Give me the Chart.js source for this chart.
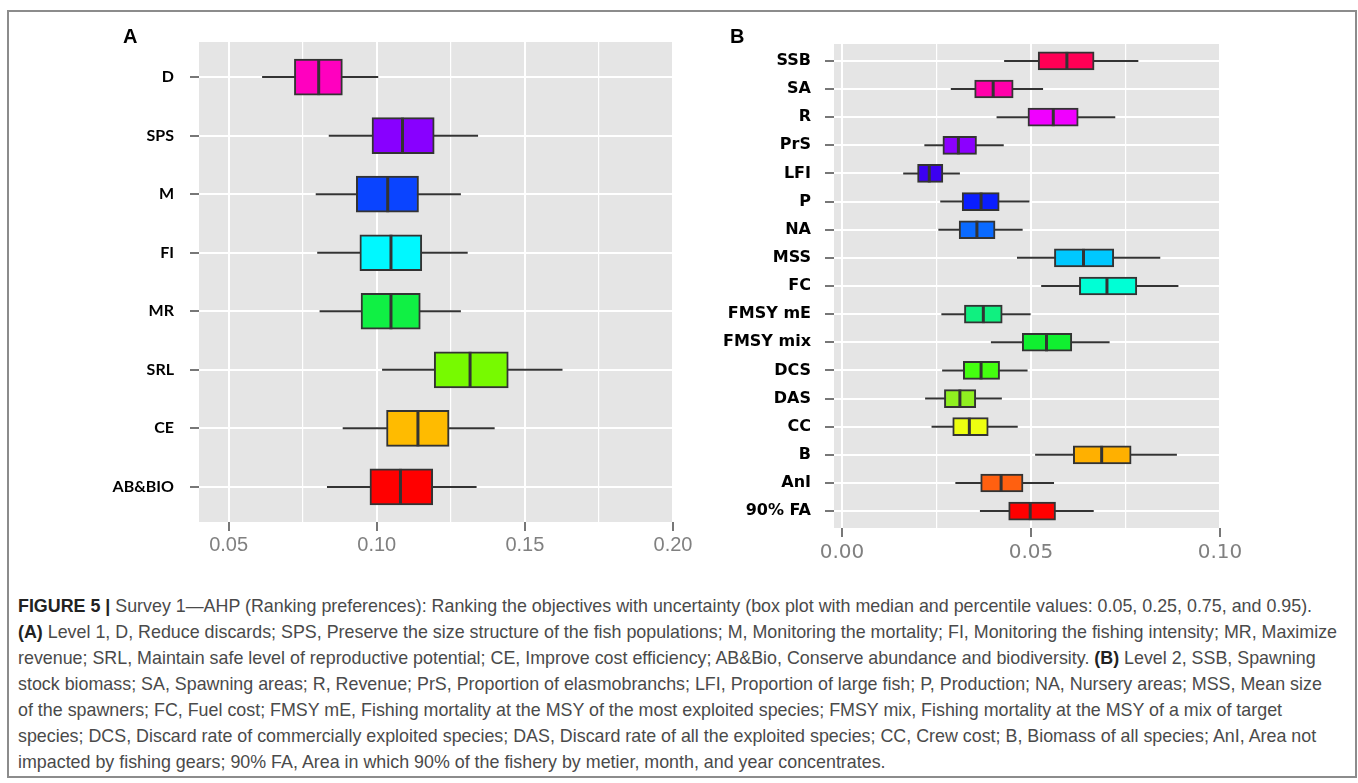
<!DOCTYPE html>
<html>
<head>
<meta charset="utf-8">
<script src="https://cdn.jsdelivr.net/npm/chart.js@4.4.1/dist/chart.umd.min.js"></script>
<style>
  body { margin: 0; background: #fff; width: 1358px; height: 783px; overflow: hidden; position: relative; }
  #frame { position: absolute; left: 7px; top: 10px; width: 1350px; height: 768px; border: 2px solid #8c8c8c; box-sizing: border-box; }
  canvas { position: absolute; top: 0; }
  #chartA { left: 0; }
  #chartB { left: 700px; }
  .plabel { position: absolute; font: bold 20px "Liberation Sans", Arial, sans-serif; color: #000; }
  #caption { position: absolute; left: 18px; top: 593px; font-family: "Liberation Sans Narrow", "Liberation Sans", Arial, sans-serif;
             font-size: 18.5px; line-height: 26px; color: #4a4a4a; transform-origin: 0 0; }
  #caption div { white-space: nowrap; }
  #caption b { color: #222; }
</style>
</head>
<body>
<div id="frame"></div>
<canvas id="chartA" width="700" height="580"></canvas>
<canvas id="chartB" width="560" height="580"></canvas>
<div class="plabel" style="left:123px; top:25px;">A</div>
<div class="plabel" style="left:730px; top:25px;">B</div>
<div id="caption">
  <div><b>FIGURE 5 |</b> Survey 1—AHP (Ranking preferences): Ranking the objectives with uncertainty (box plot with median and percentile values: 0.05, 0.25, 0.75, and 0.95).</div>
  <div><b>(A)</b> Level 1, D, Reduce discards; SPS, Preserve the size structure of the fish populations; M, Monitoring the mortality; FI, Monitoring the fishing intensity; MR, Maximize</div>
  <div>revenue; SRL, Maintain safe level of reproductive potential; CE, Improve cost efficiency; AB&amp;Bio, Conserve abundance and biodiversity. <b>(B)</b> Level 2, SSB, Spawning</div>
  <div>stock biomass; SA, Spawning areas; R, Revenue; PrS, Proportion of elasmobranchs; LFI, Proportion of large fish; P, Production; NA, Nursery areas; MSS, Mean size</div>
  <div>of the spawners; FC, Fuel cost; FMSY mE, Fishing mortality at the MSY of the most exploited species; FMSY mix, Fishing mortality at the MSY of a mix of target</div>
  <div>species; DCS, Discard rate of commercially exploited species; DAS, Discard rate of all the exploited species; CC, Crew cost; B, Biomass of all species; AnI, Area not</div>
  <div>impacted by fishing gears; 90% FA, Area in which 90% of the fishery by metier, month, and year concentrates.</div>
</div>
<script>
// Panel A - level 1 objectives
const catsA = ['D', 'SPS', 'M', 'FI', 'MR', 'SRL', 'CE', 'AB&BIO'];
const p05A = [0.0613, 0.0838, 0.0794, 0.0799, 0.0807, 0.1018, 0.0885, 0.0832];
const q25A = [0.0722, 0.0984, 0.0931, 0.0943, 0.0947, 0.1194, 0.1033, 0.0977];
const medA = [0.0804, 0.1087, 0.1037, 0.1048, 0.1048, 0.1315, 0.1139, 0.1080];
const q75A = [0.0884, 0.1194, 0.1141, 0.1152, 0.1147, 0.1444, 0.1244, 0.1189];
const p95A = [0.1005, 0.1342, 0.1284, 0.1307, 0.1284, 0.1627, 0.1398, 0.1337];
const ticksA = [0.05, 0.10, 0.15, 0.20];
const minorA = [0.075, 0.125, 0.175];
const colorsA = ['#ff00bf', '#8800ff', '#0a44ff', '#00f8ff', '#10f044', '#77fa00', '#ffbb00', '#ff0000'];

// Panel B - level 2 indicators
const catsB = ['SSB', 'SA', 'R', 'PrS', 'LFI', 'P', 'NA', 'MSS', 'FC', 'FMSY mE', 'FMSY mix', 'DCS', 'DAS', 'CC', 'B', 'AnI', '90% FA'];
const p05B = [0.0429, 0.0288, 0.0409, 0.0218, 0.0162, 0.0260, 0.0255, 0.0463, 0.0527, 0.0263, 0.0394, 0.0265, 0.0220, 0.0237, 0.0511, 0.0300, 0.0365];
const q25B = [0.0519, 0.0351, 0.0492, 0.0267, 0.0200, 0.0318, 0.0310, 0.0562, 0.0628, 0.0324, 0.0477, 0.0321, 0.0271, 0.0293, 0.0612, 0.0367, 0.0441];
const medB = [0.0595, 0.0400, 0.0559, 0.0308, 0.0231, 0.0368, 0.0357, 0.0639, 0.0701, 0.0374, 0.0541, 0.0368, 0.0312, 0.0337, 0.0687, 0.0421, 0.0498];
const q75B = [0.0667, 0.0453, 0.0625, 0.0356, 0.0267, 0.0416, 0.0405, 0.0719, 0.0780, 0.0424, 0.0608, 0.0417, 0.0354, 0.0387, 0.0765, 0.0479, 0.0565];
const p95B = [0.0784, 0.0532, 0.0723, 0.0428, 0.0312, 0.0496, 0.0478, 0.0842, 0.0890, 0.0499, 0.0708, 0.0491, 0.0423, 0.0465, 0.0886, 0.0561, 0.0666];
const ticksB = [0.00, 0.05, 0.10];
const minorB = [0.025, 0.075];
const colorsB = ['#ff0055', '#ff00aa', '#f000ff', '#8c00ff', '#3c00f0', '#0a1eff', '#0a6aff', '#00c8ff', '#00ffd5',
                 '#10f080', '#10f030', '#44ff10', '#90f020', '#eeff10', '#ffb000', '#ff6010', '#ff0000'];

const ink = '#333333';

// whiskers behind the boxes, medians on top, grey panel under everything
function boxPlugin(lo, hi, med) {
  return {
    id: 'boxparts',
    beforeDraw(chart) {
      const a = chart.chartArea, ctx = chart.ctx;
      ctx.save();
      ctx.fillStyle = '#e5e5e5';
      ctx.fillRect(a.left, a.top, a.right - a.left, a.bottom - a.top);
      ctx.restore();
    },
    beforeDatasetsDraw(chart) {
      const x = chart.scales.x, y = chart.scales.y, ctx = chart.ctx;
      ctx.save();
      ctx.strokeStyle = ink;
      ctx.lineWidth = 2;
      lo.forEach((v, i) => {
        const py = y.getPixelForValue(i + 1);
        ctx.beginPath();
        ctx.moveTo(x.getPixelForValue(v), py);
        ctx.lineTo(x.getPixelForValue(hi[i]), py);
        ctx.stroke();
      });
      ctx.restore();
    },
    afterDatasetsDraw(chart) {
      const x = chart.scales.x, y = chart.scales.y, ctx = chart.ctx;
      const bars = chart.getDatasetMeta(0).data;
      ctx.save();
      ctx.strokeStyle = ink;
      ctx.lineWidth = 3;
      med.forEach((v, i) => {
        const py = y.getPixelForValue(i + 1), h = bars[i].height / 2;
        const px = x.getPixelForValue(v);
        ctx.beginPath();
        ctx.moveTo(px, py - h);
        ctx.lineTo(px, py + h);
        ctx.stroke();
      });
      ctx.restore();
    }
  };
}

function boxChart(id, cats, lo, q1, med, q3, hi, colors, cfg) {
  const grid = cfg.major.concat(cfg.minor).sort((a, b) => a - b);
  const isMajor = v => cfg.major.some(m => Math.abs(m - v) < 1e-9);
  return new Chart(document.getElementById(id), {
    type: 'bar',
    data: {
      datasets: [{
        data: cats.map((c, i) => ({ x: [q1[i], q3[i]], y: i + 1 })),
        backgroundColor: colors,
        borderColor: ink,
        borderWidth: 2,
        borderSkipped: false,
        barThickness: cfg.boxH
      }]
    },
    options: {
      indexAxis: 'y',
      responsive: false,
      animation: false,
      devicePixelRatio: 1,
      layout: { padding: { top: cfg.top, right: cfg.right, left: 0, bottom: 0 } },
      plugins: { legend: { display: false }, tooltip: { enabled: false } },
      scales: {
        x: {
          type: 'linear', min: cfg.xmin, max: cfg.xmax,
          afterBuildTicks: s => { s.ticks = grid.map(v => ({ value: v })); },
          afterFit: s => { s.height = cfg.xH; },
          ticks: {
            autoSkip: false, maxRotation: 0, padding: cfg.xPad, color: '#808080',
            font: { family: cfg.xFont, size: 20 },
            callback: v => isMajor(v) ? v.toFixed(2) : ''
          },
          grid: {
            color: '#ffffff',
            lineWidth: c => isMajor(c.tick.value) ? 2 : 1.2,
            tickLength: 9,
            tickWidth: 2,
            tickColor: c => isMajor(c.tick.value) ? '#777777' : 'rgba(0,0,0,0)'
          },
          border: { display: false }
        },
        y: {
          type: 'linear', reverse: true, offset: false, min: 0.4, max: cats.length + 0.6,
          afterBuildTicks: s => { s.ticks = cats.map((c, i) => ({ value: i + 1 })); },
          afterFit: s => { s.width = cfg.yW; },
          ticks: {
            autoSkip: false, padding: cfg.yPad, color: '#000',
            font: { family: cfg.yFont, size: 16, weight: 'bold' },
            callback: v => cats[Math.round(v) - 1]
          },
          grid: { offset: false, color: '#ffffff', lineWidth: 2, tickLength: 9, tickWidth: 2, tickColor: '#777777' },
          border: { display: false }
        }
      }
    },
    plugins: [boxPlugin(lo, hi, med)]
  });
}

boxChart('chartA', catsA, p05A, q25A, medA, q75A, p95A, colorsA, {
  major: ticksA, minor: minorA, xmin: 0.04, xmax: 0.2, boxH: 36,
  top: 42, right: 27, xH: 58, yW: 199, xPad: 2, yPad: 16,
  xFont: '"Liberation Sans", Arial, sans-serif', yFont: 'Lato, "Open Sans", sans-serif'
});

boxChart('chartB', catsB, p05B, q25B, medB, q75B, p95B, colorsB, {
  major: ticksB, minor: minorB, xmin: -0.0021, xmax: 0.1, boxH: 18,
  top: 44, right: 40, xH: 52, yW: 134, xPad: 4, yPad: 14,
  xFont: '"DejaVu Sans", sans-serif', yFont: '"DejaVu Sans", sans-serif'
});

// squeeze the caption so its longest line fits the printed text block
const cap = document.getElementById('caption');
let w = 0;
cap.querySelectorAll('div').forEach(d => {
  const r = document.createRange();
  r.selectNodeContents(d);
  w = Math.max(w, r.getBoundingClientRect().width);
});
cap.style.transform = 'scaleX(' + (1319 / w) + ')';
</script>
</body>
</html>
